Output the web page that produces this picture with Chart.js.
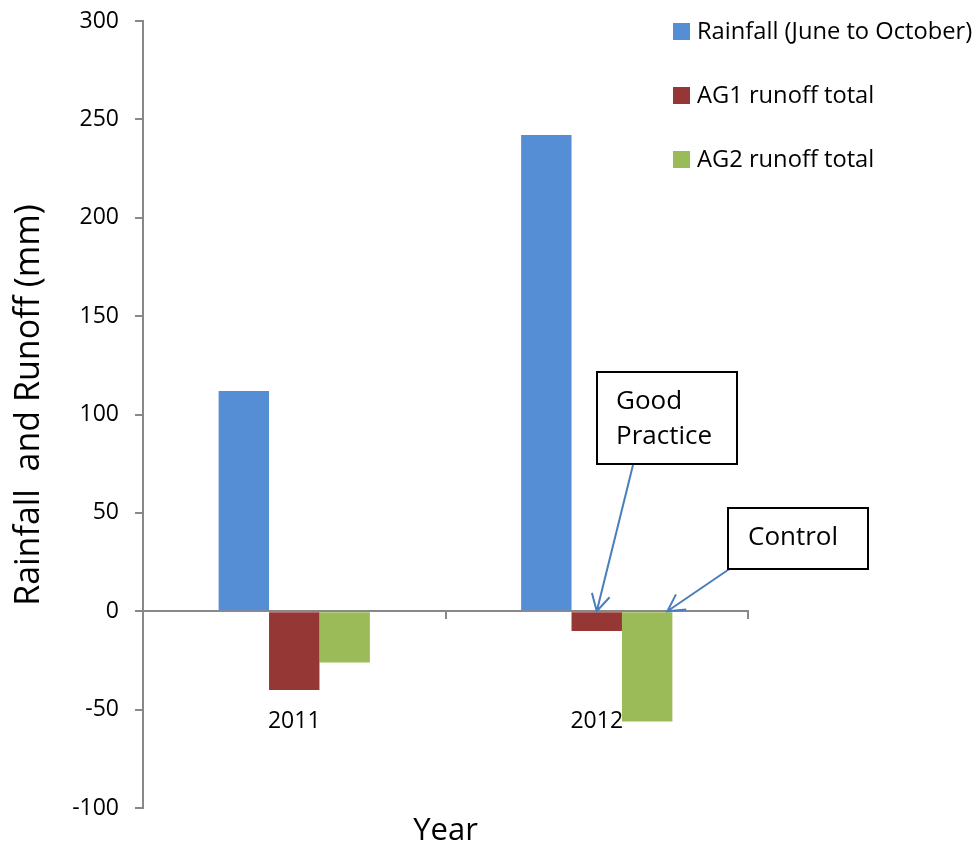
<!DOCTYPE html>
<html>
<head>
<meta charset="utf-8">
<script src="https://cdn.jsdelivr.net/npm/chart.js@4.4.1/dist/chart.umd.min.js"></script>
<style>
  html, body { margin: 0; padding: 0; background: #fff; }
</style>
</head>
<body>
<canvas id="grafico" width="976" height="848"></canvas>
<script>
const years = ['2011', '2012'];
const rainfall = [112, 242];
const ag1Runoff = [-40, -10];
const ag2Runoff = [-26, -56];
const yMin = -100;
const yMax = 300;
const yStep = 50;
const seriesNames = ['Rainfall (June to October)', 'AG1 runoff total', 'AG2 runoff total'];
const seriesColors = ['#558ED5', '#953735', '#9BBB59'];
const yTitle = 'Rainfall  and Runoff (mm)';
const xTitle = 'Year';
const noteGood = ['Good', 'Practice'];
const noteControl = ['Control'];

const fuente = '"Open Sans", "Liberation Sans", sans-serif';

// flecha con punta abierta
function flecha(ctx, x1, y1, x2, y2) {
  const ang = Math.atan2(y2 - y1, x2 - x1);
  const largo = 19;
  ctx.beginPath();
  ctx.moveTo(x1, y1);
  ctx.lineTo(x2, y2);
  ctx.moveTo(x2 - largo * Math.cos(ang - 0.5), y2 - largo * Math.sin(ang - 0.5));
  ctx.lineTo(x2, y2);
  ctx.lineTo(x2 - largo * Math.cos(ang + 0.5), y2 - largo * Math.sin(ang + 0.5));
  ctx.stroke();
}

const extras = {
  id: 'extras',
  afterDraw(chart) {
    const ctx = chart.ctx;
    const area = chart.chartArea;
    const y0 = chart.scales.y.getPixelForValue(0);
    ctx.save();

    // leyenda
    ctx.font = '23.7px ' + fuente;
    ctx.textBaseline = 'middle';
    ctx.textAlign = 'left';
    seriesNames.forEach((nombre, i) => {
      const cy = 32 + i * 64;
      ctx.fillStyle = seriesColors[i];
      ctx.fillRect(673, cy - 9, 17, 17);
      ctx.fillStyle = '#000';
      ctx.fillText(nombre, 697, cy);
    });

    // titulos de ejes
    ctx.font = '31px ' + fuente;
    ctx.textAlign = 'center';
    ctx.textBaseline = 'alphabetic';
    ctx.fillText(xTitle, (area.left + area.right) / 2, 840);

    ctx.save();
    ctx.translate(29, 405);
    ctx.rotate(-Math.PI / 2);
    ctx.font = '34px ' + fuente;
    ctx.textBaseline = 'middle';
    ctx.fillText(yTitle, 0, 0);
    ctx.restore();

    // flechas
    const barAG1 = chart.getDatasetMeta(1).data[1];
    const barAG2 = chart.getDatasetMeta(2).data[1];
    ctx.strokeStyle = '#4A7EBB';
    ctx.lineWidth = 2;
    flecha(ctx, 633, 465, barAG1.x, y0);
    flecha(ctx, 747, 557, barAG2.x + barAG2.width * 0.4, y0);

    // cuadros de texto
    ctx.fillStyle = '#fff';
    ctx.strokeStyle = '#000';
    ctx.lineWidth = 2;
    ctx.fillRect(597, 372, 140, 92);
    ctx.strokeRect(597, 372, 140, 92);
    ctx.fillRect(728, 508, 140, 61);
    ctx.strokeRect(728, 508, 140, 61);

    ctx.fillStyle = '#000';
    ctx.font = '26px ' + fuente;
    ctx.textAlign = 'left';
    ctx.textBaseline = 'middle';
    ctx.fillText(noteGood[0], 616, 402);
    ctx.fillText(noteGood[1], 616, 437);
    ctx.fillText(noteControl[0], 748, 538);

    ctx.restore();
  }
};

new Chart(document.getElementById('grafico'), {
  type: 'bar',
  data: {
    labels: years,
    datasets: [
      { label: seriesNames[0], data: rainfall, backgroundColor: seriesColors[0] },
      { label: seriesNames[1], data: ag1Runoff, backgroundColor: seriesColors[1] },
      { label: seriesNames[2], data: ag2Runoff, backgroundColor: seriesColors[2] }
    ]
  },
  options: {
    responsive: false,
    animation: false,
    layout: { padding: { left: 0, top: 21, right: 228, bottom: 40 } },
    datasets: {
      bar: { barPercentage: 1, categoryPercentage: 0.5 }
    },
    plugins: {
      legend: { display: false },
      tooltip: { enabled: false }
    },
    scales: {
      x: {
        position: { y: 0 },
        grid: {
          offset: true,
          drawOnChartArea: false,
          drawTicks: true,
          tickLength: 7,
          color: '#888',
          lineWidth: 2
        },
        border: { color: '#888', width: 2 },
        ticks: {
          color: '#000',
          font: { family: fuente, size: 23 },
          padding: 89
        }
      },
      y: {
        min: yMin,
        max: yMax,
        afterFit(scale) {
          scale.width = 143;
          scale.paddingTop = 0;
          scale.paddingBottom = 0;
        },
        grid: {
          drawOnChartArea: false,
          drawTicks: true,
          tickLength: 8,
          color: '#888',
          lineWidth: 2
        },
        border: { color: '#888', width: 2 },
        ticks: {
          stepSize: yStep,
          color: '#000',
          font: { family: fuente, size: 23 },
          padding: 16
        }
      }
    }
  },
  plugins: [extras]
});
</script>
</body>
</html>
